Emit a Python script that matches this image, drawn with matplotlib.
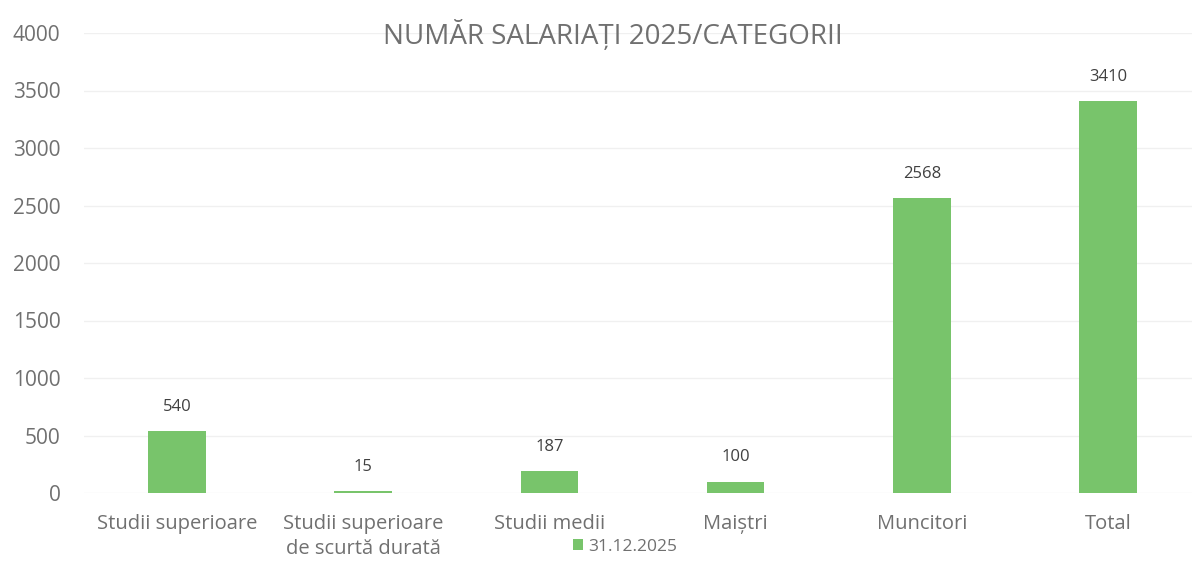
import matplotlib.pyplot as plt
import numpy as np

categories = ['Studii superioare', 'Studii superioare\nde scurtă durată', 'Studii medii',
              'Maiștri', 'Muncitori', 'Total']
values = [540, 15, 187, 100, 2568, 3410]
yticks = [0, 500, 1000, 1500, 2000, 2500, 3000, 3500, 4000]
series_name = '31.12.2025'

plt.rcParams['font.family'] = ['Open Sans', 'DejaVu Sans']
grey = '#707070'
green = '#78c46b'

fig = plt.figure(figsize=(11.92, 5.61), dpi=100)
ax = fig.add_axes([84 / 1192, 68 / 561, 1117 / 1192, 460 / 561])

x = np.arange(len(categories))
bars = ax.bar(x, values, width=0.31, color=green, label=series_name, zorder=2)
for b, v in zip(bars, values):
    ax.text(b.get_x() + b.get_width() / 2, v + 140, str(v), ha='center', va='bottom',
            fontsize=12, color='#404040')

ax.set_xlim(-0.5, len(categories) - 0.5)
ax.set_ylim(0, 4000)
ax.set_yticks(yticks)
ax.set_xticks(x)
ax.set_xticklabels(categories, fontsize=14.5, color=grey, va='top', linespacing=1.35)
ax.tick_params(axis='y', labelsize=15, labelcolor=grey, length=0, pad=17)
ax.tick_params(axis='x', length=0, pad=15)
ax.grid(axis='y', color='#f0f0f0', linewidth=1, zorder=0)
for s in ax.spines.values():
    s.set_visible(False)

fig.text(613 / 1192, 1 - 35 / 561, 'NUMĂR SALARIAȚI 2025/CATEGORII', ha='center', va='center',
         fontsize=20, color=grey)
fig.legend(loc='center', bbox_to_anchor=(625 / 1192, 1 - 547 / 561), frameon=False,
           fontsize=12.5, labelcolor=grey, handlelength=0.6, handleheight=0.6, handletextpad=0.3)

fig.savefig('out.png', dpi=100)
